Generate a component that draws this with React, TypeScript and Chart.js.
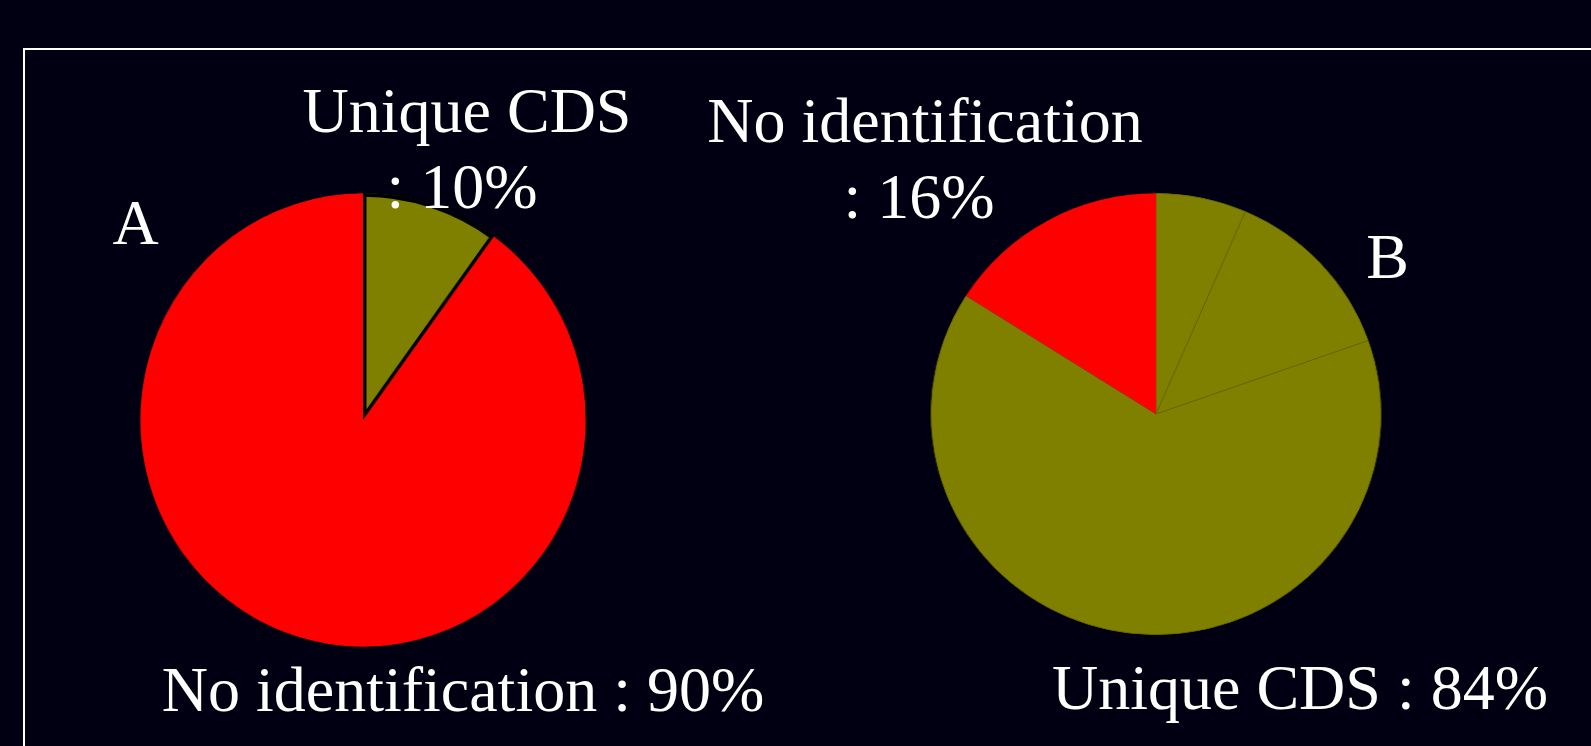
import React, { useEffect, useRef } from "react";
import { Chart, registerables } from "chart.js";

Chart.register(...registerables);

// Pie A
const pieALabels = ["Unique CDS", "No identification"];
const pieAValues = [10, 90];
const pieAColors = ["#808000", "#ff0000"];

// Pie B (the 84% "Unique CDS" share is drawn as three olive slices)
const pieBLabels = ["Unique CDS (a)", "Unique CDS (b)", "Unique CDS (c)", "No identification"];
const pieBValues = [6.5, 13.1, 64.4, 16];
const pieBColors = ["#808000", "#808000", "#808000", "#ff0000"];

const BG = "#000012";
const FONT = "'Liberation Serif', 'Times New Roman', serif";

type Lbl = { text: string; cx: number; base: number };
const textLabels: Lbl[] = [
  { text: "Unique CDS", cx: 467, base: 133 },
  { text: ": 10%", cx: 462, base: 209 },
  { text: "No identification", cx: 925, base: 143 },
  { text: ": 16%", cx: 919, base: 219 },
  { text: "A", cx: 135.5, base: 245 },
  { text: "B", cx: 1387.5, base: 279 },
  { text: "No identification : 90%", cx: 463, base: 712 },
  { text: "Unique CDS : 84%", cx: 1300, base: 710 },
];

function PieCanvas(props: {
  left: number;
  top: number;
  size: number;
  scaleX: number;
  labels: string[];
  values: number[];
  colors: string[];
  borderColors: string[];
  borderWidths: number[];
}) {
  const ref = useRef<HTMLCanvasElement | null>(null);
  useEffect(() => {
    if (!ref.current) return;
    const chart = new Chart(ref.current, {
      type: "pie",
      data: {
        labels: props.labels,
        datasets: [
          {
            data: props.values,
            backgroundColor: props.colors,
            borderColor: props.borderColors,
            borderWidth: props.borderWidths,
            borderAlign: "inner",
            hoverBorderWidth: 0,
            hoverOffset: 0,
            offset: 0,
          } as any,
        ],
      },
      options: {
        responsive: false,
        animation: false,
        devicePixelRatio: 1,
        events: [],
        layout: { padding: 0 },
        plugins: {
          legend: { display: false },
          tooltip: { enabled: false },
          title: { display: false },
        },
      },
    });
    return () => chart.destroy();
  }, []);
  return (
    <div
      style={{
        position: "absolute",
        left: props.left,
        top: props.top,
        width: props.size,
        height: props.size,
        transform: `scaleX(${props.scaleX})`,
        transformOrigin: "50% 50%",
      }}
    >
      <canvas
        ref={ref}
        width={props.size}
        height={props.size}
        style={{ width: props.size, height: props.size, display: "block" }}
      />
    </div>
  );
}

export default function App() {
  return (
    <div
      style={{
        position: "fixed",
        left: 0,
        top: 0,
        width: 1591,
        height: 746,
        background: BG,
        overflow: "hidden",
      }}
    >
      <div
        style={{
          position: "absolute",
          left: 23,
          top: 48,
          width: 1700,
          height: 900,
          border: "2px solid #ffffff",
          boxSizing: "border-box",
        }}
      />
      <PieCanvas
        left={136}
        top={193}
        size={454}
        scaleX={0.982}
        labels={pieALabels}
        values={pieAValues}
        colors={pieAColors}
        borderColors={["#000000", "#ff0000"]}
        borderWidths={[3.5, 0]}
      />
      <PieCanvas
        left={935}
        top={193}
        size={442}
        scaleX={1.02}
        labels={pieBLabels}
        values={pieBValues}
        colors={pieBColors}
        borderColors={["#666600", "#666600", "#666600", "#ff0000"]}
        borderWidths={[0.5, 0.5, 0.5, 0]}
      />
      {textLabels.map((l, i) => (
        <div
          key={i}
          style={{
            position: "absolute",
            left: l.cx - 500,
            width: 1000,
            top: l.base - 53.6,
            height: 64,
            lineHeight: "64px",
            fontSize: 64,
            fontFamily: FONT,
            color: "#ffffff",
            textAlign: "center",
            whiteSpace: "nowrap",
          }}
        >
          {l.text}
        </div>
      ))}
    </div>
  );
}
